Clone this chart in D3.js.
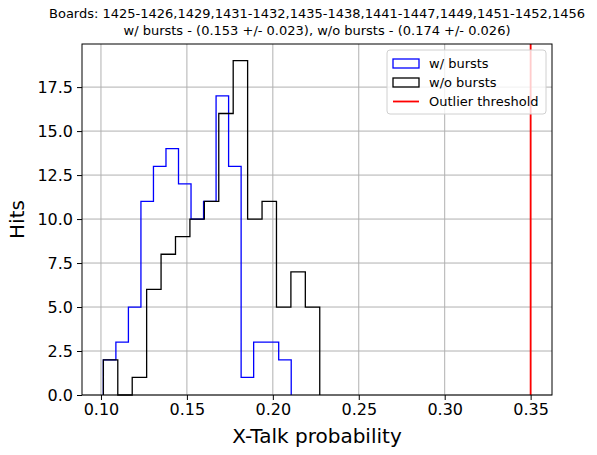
<!DOCTYPE html>
<html>
<head>
<meta charset="utf-8">
<script src="https://cdn.jsdelivr.net/npm/d3@7"></script>
<style>
  html, body { margin: 0; padding: 0; background: #fff; }
  svg { display: block; font-family: "DejaVu Sans", sans-serif; }
</style>
</head>
<body>
<svg id="chart" width="597" height="455"></svg>
<script>
// Histogram counts (15 equal-width bins per series)
const burstCounts   = [2, 3, 5, 11, 13, 14, 12, 10, 11, 17, 13, 1, 3, 3, 2];
const noBurstCounts = [2, 0, 1, 6, 8, 9, 10, 11, 16, 19, 10, 11, 5, 7, 5];
// Bin range [first edge, last edge] of each series
const burstRange   = [0.1014, 0.2107];
const noBurstRange = [0.1014, 0.2273];
const outlierThreshold = 0.35;

const xTicks = [0.10, 0.15, 0.20, 0.25, 0.30, 0.35];
const yTicks = [0, 2.5, 5, 7.5, 10, 12.5, 15, 17.5];

const titleLines = [
  "Boards: 1425-1426,1429,1431-1432,1435-1438,1441-1447,1449,1451-1452,1456",
  "w/ bursts - (0.153 +/- 0.023), w/o bursts - (0.174 +/- 0.026)"
];
const legendLabels = ["w/ bursts", "w/o bursts", "Outlier threshold"];
const seriesColors = ["#0000ff", "#000000", "#ff0000"];

const svg = d3.select("#chart");
const plot = { left: 82, right: 552, top: 44, bottom: 395 };

function edges(range, n) {
  const w = (range[1] - range[0]) / n;
  return d3.range(n + 1).map(i => range[0] + i * w);
}
const burstEdges = edges(burstRange, burstCounts.length);
const noBurstEdges = edges(noBurstRange, noBurstCounts.length);

// matplotlib-style 5% margins on the data extent
const xMin = Math.min(burstRange[0], noBurstRange[0]);
const xMax = Math.max(burstRange[1], noBurstRange[1], outlierThreshold);
const xPad = (xMax - xMin) * 0.05;
const x = d3.scaleLinear().domain([xMin - xPad, xMax + xPad]).range([plot.left, plot.right]);
const yMax = d3.max(burstCounts.concat(noBurstCounts)) * 1.05;
const y = d3.scaleLinear().domain([0, yMax]).range([plot.bottom, plot.top]);

// grid
const grid = svg.append("g").attr("stroke", "#b0b0b0").attr("stroke-width", 1);
xTicks.forEach(t => grid.append("line")
  .attr("x1", x(t)).attr("x2", x(t)).attr("y1", plot.top).attr("y2", plot.bottom));
yTicks.forEach(t => grid.append("line")
  .attr("x1", plot.left).attr("x2", plot.right).attr("y1", y(t)).attr("y2", y(t)));

// step outlines
function stepPoints(e, c) {
  const pts = [[e[0], 0]];
  c.forEach((v, i) => { pts.push([e[i], v]); pts.push([e[i + 1], v]); });
  pts.push([e[e.length - 1], 0]);
  return pts;
}
const line = d3.line().x(d => x(d[0])).y(d => y(d[1]));
svg.append("path").attr("d", line(stepPoints(burstEdges, burstCounts)))
  .attr("fill", "none").attr("stroke", seriesColors[0]).attr("stroke-width", 1.3);
svg.append("path").attr("d", line(stepPoints(noBurstEdges, noBurstCounts)))
  .attr("fill", "none").attr("stroke", seriesColors[1]).attr("stroke-width", 1.3);

// outlier threshold
svg.append("line")
  .attr("x1", x(outlierThreshold)).attr("x2", x(outlierThreshold))
  .attr("y1", plot.top).attr("y2", plot.bottom)
  .attr("stroke", seriesColors[2]).attr("stroke-width", 1.8);

// axes
const xAxis = d3.axisBottom(x).tickValues(xTicks).tickFormat(d3.format(".2f"))
  .tickSize(5).tickPadding(4);
const yAxis = d3.axisLeft(y).tickValues(yTicks).tickFormat(d3.format(".1f"))
  .tickSize(5).tickPadding(4);
const gx = svg.append("g").attr("transform", `translate(0,${plot.bottom})`).call(xAxis);
const gy = svg.append("g").attr("transform", `translate(${plot.left},0)`).call(yAxis);
[gx, gy].forEach(g => {
  g.select(".domain").remove();
  g.selectAll("text").attr("font-size", 16).attr("fill", "#000")
    .attr("font-family", "DejaVu Sans, sans-serif");
  g.selectAll("line").attr("stroke", "#000");
});

// frame
svg.append("rect")
  .attr("x", plot.left).attr("y", plot.top)
  .attr("width", plot.right - plot.left).attr("height", plot.bottom - plot.top)
  .attr("fill", "none").attr("stroke", "#000").attr("stroke-width", 1);

// labels
svg.append("text").attr("x", (plot.left + plot.right) / 2).attr("y", 443)
  .attr("text-anchor", "middle").attr("font-size", 20).text("X-Talk probability");
svg.append("text").attr("transform", `translate(24,${(plot.top + plot.bottom) / 2}) rotate(-90)`)
  .attr("text-anchor", "middle").attr("font-size", 20).text("Hits");
titleLines.forEach((t, i) => svg.append("text")
  .attr("x", (plot.left + plot.right) / 2).attr("y", 18 + i * 17)
  .attr("text-anchor", "middle").attr("font-size", 13).text(t));

// legend
const lg = svg.append("g");
lg.append("rect").attr("x", 387).attr("y", 50).attr("width", 159).attr("height", 64)
  .attr("rx", 3).attr("fill", "#fff").attr("fill-opacity", 0.8)
  .attr("stroke", "#d0d0d0").attr("stroke-width", 1);
legendLabels.forEach((lab, i) => {
  const cy = 63.5 + i * 19;
  if (i < 2) {
    lg.append("rect").attr("x", 393).attr("y", cy - 4.5).attr("width", 26).attr("height", 9)
      .attr("fill", "none").attr("stroke", seriesColors[i]).attr("stroke-width", 1.3);
  } else {
    lg.append("line").attr("x1", 393).attr("x2", 419).attr("y1", cy).attr("y2", cy)
      .attr("stroke", seriesColors[i]).attr("stroke-width", 1.8);
  }
  lg.append("text").attr("x", 429).attr("y", cy + 4.5).attr("font-size", 13).text(lab);
});
</script>
</body>
</html>
